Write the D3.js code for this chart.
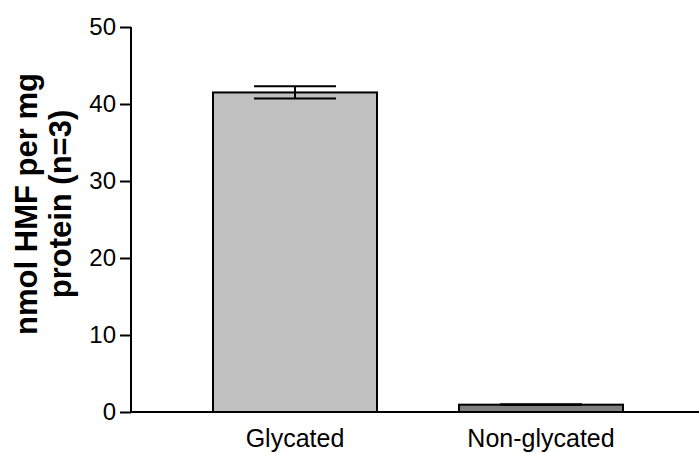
<!DOCTYPE html>
<html>
<head>
<meta charset="utf-8">
<script src="https://cdn.jsdelivr.net/npm/d3@7"></script>
<style>
  body { margin: 0; background: #fff; }
  svg text { font-family: Arial, "Liberation Sans", sans-serif; fill: #000; }
</style>
</head>
<body>
<script>
const categories = ['Glycated', 'Non-glycated'];
const means = [41.5, 0.95];
const errors = [0.8, 0.05];
const fills = ['#c0c0c0', '#808080'];
const yTicks = [0, 10, 20, 30, 40, 50];
const yTitle = ['nmol HMF per mg', 'protein (n=3)'];

const width = 699;
const height = 453;

const svg = d3.select('body')
  .append('svg')
  .attr('width', width)
  .attr('height', height);

const x = d3.scaleBand()
  .domain(categories)
  .range([131, 705])
  .paddingInner(1 / 3)
  .paddingOuter(1 / 3);

const y = d3.scaleLinear()
  .domain([0, 50])
  .range([412, 27]);

const data = categories.map((c, i) => ({ cat: c, mean: means[i], err: errors[i], fill: fills[i] }));

// bars
svg.append('g')
  .selectAll('rect')
  .data(data)
  .enter()
  .append('rect')
  .attr('x', d => x(d.cat))
  .attr('y', d => y(d.mean))
  .attr('width', x.bandwidth())
  .attr('height', d => y(0) - y(d.mean))
  .attr('fill', d => d.fill)
  .attr('stroke', '#000')
  .attr('stroke-width', 2);

// error bars (cap width = half the bar)
const err = svg.append('g')
  .selectAll('g')
  .data(data)
  .enter()
  .append('g')
  .attr('stroke', '#000')
  .attr('stroke-width', 2);

err.append('line')
  .attr('x1', d => x(d.cat) + x.bandwidth() / 2)
  .attr('x2', d => x(d.cat) + x.bandwidth() / 2)
  .attr('y1', d => y(d.mean + d.err))
  .attr('y2', d => y(d.mean - d.err));

err.selectAll('.cap')
  .data(d => [d.mean + d.err, d.mean - d.err].map(v => ({ cat: d.cat, v: v })))
  .enter()
  .append('line')
  .attr('class', 'cap')
  .attr('x1', d => x(d.cat) + x.bandwidth() / 4)
  .attr('x2', d => x(d.cat) + x.bandwidth() * 3 / 4)
  .attr('y1', d => y(d.v))
  .attr('y2', d => y(d.v));

// y axis
const yAxis = svg.append('g')
  .attr('transform', 'translate(131,0)')
  .call(d3.axisLeft(y).tickValues(yTicks).tickSize(11).tickPadding(4));

yAxis.select('.domain').attr('d', `M0,${ y(50) }V${ y(0) }`).attr('stroke-width', 2);
yAxis.selectAll('.tick line').attr('stroke-width', 2);
yAxis.selectAll('.tick text')
  .attr('font-size', 24)
  .style('font-family', 'Arial, "Liberation Sans", sans-serif');

// x axis
const xAxis = svg.append('g')
  .attr('transform', `translate(0,${ y(0) })`)
  .call(d3.axisBottom(x).tickSize(0));

xAxis.select('.domain').attr('d', `M131,0H${ width }`).attr('stroke-width', 2);
xAxis.selectAll('.tick text')
  .attr('y', 35)
  .attr('dy', 0)
  .attr('font-size', 25)
  .style('font-family', 'Arial, "Liberation Sans", sans-serif');

// y title
svg.append('text')
  .attr('transform', 'translate(37,204) rotate(-90)')
  .attr('text-anchor', 'middle')
  .attr('font-size', 31)
  .attr('font-weight', 'bold')
  .selectAll('tspan')
  .data(yTitle)
  .enter()
  .append('tspan')
  .attr('x', 0)
  .attr('dy', (d, i) => i === 0 ? 0 : 34)
  .text(d => d);
</script>
</body>
</html>
